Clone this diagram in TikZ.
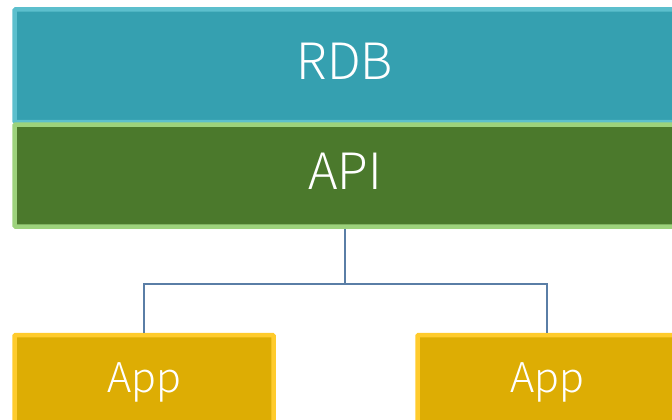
\documentclass[tikz,border=0pt]{standalone}
\usepackage{fontspec}
\setmainfont{Noto Sans CJK JP}[UprightFont={* Light}]
\usepackage{tikz}
\definecolor{rdbfill}{HTML}{35A0B0}
\definecolor{rdbline}{HTML}{5CBFCD}
\definecolor{apifill}{HTML}{4B792C}
\definecolor{apiline}{HTML}{9DD27C}
\definecolor{appfill}{HTML}{DDAD04}
\definecolor{appline}{HTML}{FFCB2C}
\definecolor{linkcol}{HTML}{5A7EA6}
\tikzset{
    layer/.style={shape=rectangle, line width=4.5pt, rounded corners=1pt, inner sep=0pt},
    rdbbox/.style={layer, draw=rdbline, fill=rdbfill, minimum width=663.5pt, minimum height=112.5pt},
    apibox/.style={layer, draw=apiline, fill=apifill, minimum width=663.5pt, minimum height=102pt},
    appbox/.style={layer, draw=appline, fill=appfill, minimum width=259pt, minimum height=110pt},
    caption/.style={text=white, anchor=base, inner sep=0pt},
    link/.style={draw=linkcol, line width=1.6pt}}

\begin{document}
\begin{tikzpicture}[x=1pt, y=-1pt]

    \useasboundingbox (0,0) rectangle (672,420);
    \clip (0,0) rectangle (672,420);

    \node[rdbbox] (rdb) at (346.25,65.75) {};
    \node[apibox] (api) at (346.25,175.5) {};
    \node[appbox] (appA) at (144,390) {};
    \node[appbox] (appB) at (547,390) {};

    \node[caption, font=\fontsize{50}{50}\selectfont] (rdbtext) at (345,80) {RDB};
    \node[caption, font=\fontsize{50}{50}\selectfont] (apitext) at (345,189) {API};
    \node[caption, font=\fontsize{41}{41}\selectfont] (appAtext) at (144,392) {App};
    \node[caption, font=\fontsize{41}{41}\selectfont] (appBtext) at (547,392) {App};

    \coordinate (fork) at (345,284);
    \draw[link] (api.south -| fork) -- (fork);
    \draw[link] (fork) -| (appA.north);
    \draw[link] (fork) -| (appB.north);

\end{tikzpicture}
\end{document}
